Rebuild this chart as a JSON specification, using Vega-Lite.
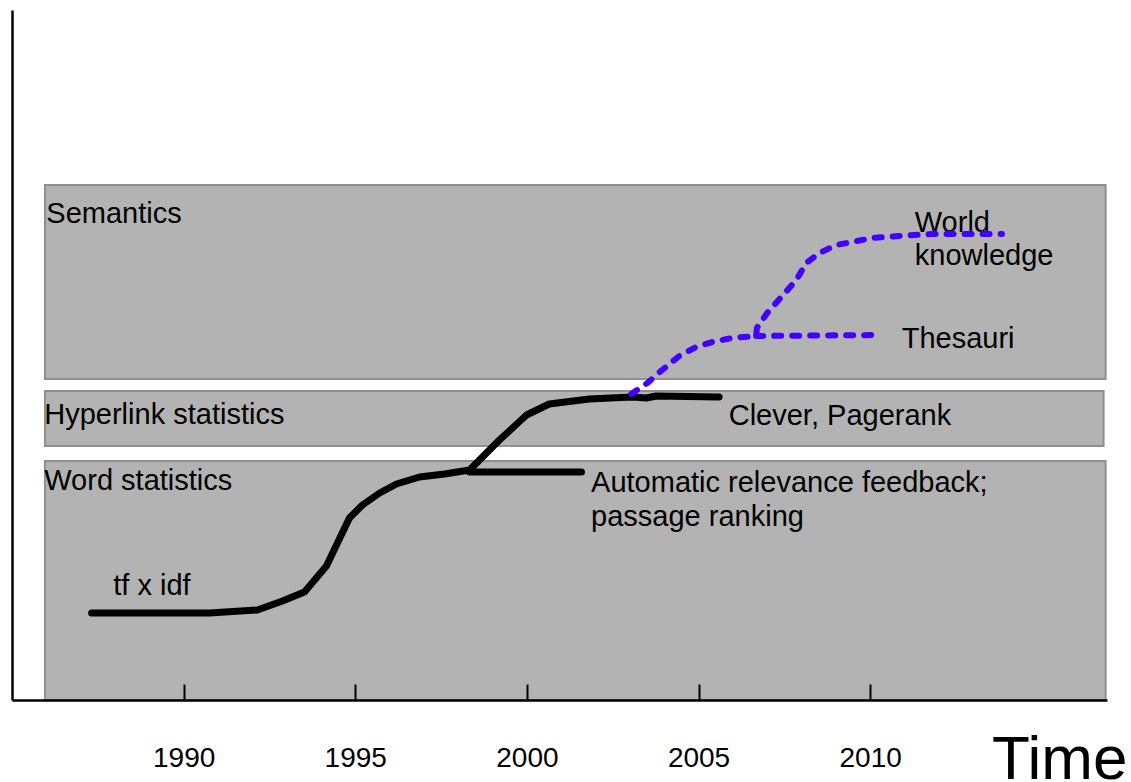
{
  "$schema": "https://vega.github.io/schema/vega-lite/v6.json",
  "autosize": "none",
  "width": 1095,
  "height": 690,
  "padding": {"left": 12, "top": 10, "right": 24, "bottom": 82},
  "background": "white",
  "config": {"view": {"stroke": null}},
  "datasets": {
    "bands": [
      {"band": "Semantics", "x1": 1985.96, "x2": 2016.86, "y1": 32.1, "y2": 51.5},
      {"band": "Hyperlink statistics", "x1": 1985.96, "x2": 2016.8, "y1": 25.4, "y2": 30.9},
      {"band": "Word statistics", "x1": 1985.96, "x2": 2016.86, "y1": 0, "y2": 23.9}
    ],
    "black": [
      {"seg": "main", "i": 1, "year": 1987.32, "v": 8.7},
      {"seg": "main", "i": 2, "year": 1990.76, "v": 8.7},
      {"seg": "main", "i": 3, "year": 1992.15, "v": 9.0},
      {"seg": "main", "i": 4, "year": 1992.88, "v": 9.9},
      {"seg": "main", "i": 5, "year": 1993.52, "v": 10.8},
      {"seg": "main", "i": 6, "year": 1994.16, "v": 13.4},
      {"seg": "main", "i": 7, "year": 1994.83, "v": 18.2},
      {"seg": "main", "i": 8, "year": 1995.21, "v": 19.5},
      {"seg": "main", "i": 9, "year": 1995.71, "v": 20.7},
      {"seg": "main", "i": 10, "year": 1996.2, "v": 21.6},
      {"seg": "main", "i": 11, "year": 1996.87, "v": 22.3},
      {"seg": "main", "i": 12, "year": 1997.6, "v": 22.6},
      {"seg": "main", "i": 13, "year": 1998.33, "v": 23.0},
      {"seg": "main", "i": 14, "year": 1999.2, "v": 26.0},
      {"seg": "main", "i": 15, "year": 1999.55, "v": 27.1},
      {"seg": "main", "i": 16, "year": 1999.99, "v": 28.5},
      {"seg": "main", "i": 17, "year": 2000.65, "v": 29.6},
      {"seg": "main", "i": 18, "year": 2001.82, "v": 30.1},
      {"seg": "main", "i": 19, "year": 2003.07, "v": 30.3},
      {"seg": "main", "i": 20, "year": 2003.48, "v": 30.2},
      {"seg": "main", "i": 21, "year": 2003.77, "v": 30.4},
      {"seg": "main", "i": 22, "year": 2005.6, "v": 30.3},
      {"seg": "branch", "i": 1, "year": 1998.33, "v": 22.8},
      {"seg": "branch", "i": 2, "year": 2001.59, "v": 22.8}
    ],
    "blue": [
      {"seg": "world", "i": 1, "year": 2003.04, "v": 30.6},
      {"seg": "world", "i": 2, "year": 2003.51, "v": 31.7},
      {"seg": "world", "i": 3, "year": 2003.94, "v": 33.0},
      {"seg": "world", "i": 4, "year": 2004.44, "v": 34.4},
      {"seg": "world", "i": 5, "year": 2004.93, "v": 35.3},
      {"seg": "world", "i": 6, "year": 2005.4, "v": 35.8},
      {"seg": "world", "i": 7, "year": 2005.98, "v": 36.2},
      {"seg": "world", "i": 8, "year": 2006.68, "v": 36.4},
      {"seg": "world", "i": 9, "year": 2006.7, "v": 37.2},
      {"seg": "world", "i": 10, "year": 2007.0, "v": 38.7},
      {"seg": "world", "i": 11, "year": 2007.41, "v": 40.3},
      {"seg": "world", "i": 12, "year": 2007.85, "v": 42.0},
      {"seg": "world", "i": 13, "year": 2008.14, "v": 43.7},
      {"seg": "world", "i": 14, "year": 2008.52, "v": 44.7},
      {"seg": "world", "i": 15, "year": 2009.01, "v": 45.5},
      {"seg": "world", "i": 16, "year": 2009.48, "v": 45.8},
      {"seg": "world", "i": 17, "year": 2010.06, "v": 46.2},
      {"seg": "world", "i": 18, "year": 2010.84, "v": 46.4},
      {"seg": "world", "i": 19, "year": 2011.8, "v": 46.6},
      {"seg": "world", "i": 20, "year": 2013.84, "v": 46.6},
      {"seg": "thesauri", "i": 1, "year": 2006.68, "v": 36.4},
      {"seg": "thesauri", "i": 2, "year": 2010.32, "v": 36.5}
    ],
    "labels": [
      {"t": "Semantics", "x": 1986.0, "y": 47.7},
      {"t": "Hyperlink statistics", "x": 1985.94, "y": 27.6},
      {"t": "Word statistics", "x": 1985.94, "y": 21.0},
      {"t": "tf x idf", "x": 1987.95, "y": 10.5},
      {"t": "Automatic relevance feedback;", "x": 2001.87, "y": 20.8},
      {"t": "passage ranking", "x": 2001.87, "y": 17.4},
      {"t": "Clever, Pagerank", "x": 2005.88, "y": 27.5},
      {"t": "World", "x": 2011.3, "y": 46.8},
      {"t": "knowledge", "x": 2011.3, "y": 43.5},
      {"t": "Thesauri", "x": 2010.92, "y": 35.2}
    ]
  },
  "layer": [
    {
      "data": {"name": "bands"},
      "mark": {"type": "rect", "fill": "#b3b3b3", "stroke": "#8f8f8f", "strokeWidth": 2},
      "encoding": {
        "x": {
          "field": "x1", "type": "quantitative",
          "scale": {"domain": [1985, 2016.9], "nice": false, "zero": false},
          "axis": {
            "values": [1990, 1995, 2000, 2005, 2010],
            "format": "d",
            "grid": false,
            "zindex": 1,
            "domainColor": "black",
            "domainWidth": 2.5,
            "tickColor": "black",
            "tickWidth": 2,
            "tickSize": -16,
            "labelFont": "Liberation Sans",
            "labelFontSize": 28,
            "labelColor": "black",
            "labelBaseline": "alphabetic",
            "labelPadding": 82,
            "labelFlush": false,
            "title": "Time",
            "titleFont": "Liberation Sans",
            "titleFontSize": 62,
            "titleFontWeight": "normal",
            "titleColor": "black",
            "titleAnchor": "end",
            "titleAlign": "right",
            "titleBaseline": "alphabetic",
            "titleX": 1115,
            "titleY": 78
          }
        },
        "x2": {"field": "x2"},
        "y": {
          "field": "y1", "type": "quantitative",
          "scale": {"domain": [0, 69], "nice": false, "zero": false},
          "axis": {
            "grid": false, "ticks": false, "labels": false, "title": null,
            "zindex": 1, "domainColor": "black", "domainWidth": 2.5
          }
        },
        "y2": {"field": "y2"}
      }
    },
    {
      "data": {"name": "labels"},
      "mark": {"type": "text", "font": "Liberation Sans", "fontSize": 29, "color": "black", "align": "left", "baseline": "alphabetic"},
      "encoding": {
        "x": {"field": "x", "type": "quantitative"},
        "y": {"field": "y", "type": "quantitative"},
        "text": {"field": "t", "type": "nominal"}
      }
    },
    {
      "data": {"name": "black"},
      "mark": {"type": "line", "color": "black", "strokeWidth": 7, "strokeCap": "round", "strokeJoin": "round"},
      "encoding": {
        "x": {"field": "year", "type": "quantitative"},
        "y": {"field": "v", "type": "quantitative"},
        "detail": {"field": "seg", "type": "nominal"},
        "order": {"field": "i", "type": "quantitative"}
      }
    },
    {
      "data": {"name": "blue"},
      "mark": {"type": "line", "color": "#4400ff", "strokeWidth": 6, "strokeCap": "round", "strokeJoin": "round", "strokeDash": [7, 11]},
      "encoding": {
        "x": {"field": "year", "type": "quantitative"},
        "y": {"field": "v", "type": "quantitative"},
        "detail": {"field": "seg", "type": "nominal"},
        "order": {"field": "i", "type": "quantitative"}
      }
    }
  ]
}
